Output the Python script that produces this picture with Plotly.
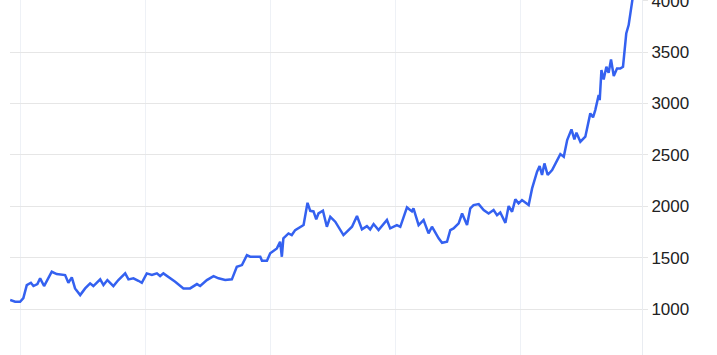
import plotly.graph_objects as go

dates = [
    "2015-11-04", "2015-12-03", "2016-01-01", "2016-01-20", "2016-02-09", "2016-03-04", "2016-03-19",
    "2016-04-11", "2016-04-27", "2016-05-20", "2016-07-04", "2016-08-02", "2016-09-20", "2016-10-09",
    "2016-10-29", "2016-11-17", "2016-12-17", "2017-01-15", "2017-02-13", "2017-03-04", "2017-04-13",
    "2017-05-02", "2017-05-25", "2017-06-29", "2017-07-28", "2017-09-06", "2017-09-25", "2017-10-24",
    "2017-11-22", "2017-12-12", "2018-01-10", "2018-02-09", "2018-03-10", "2018-03-29", "2018-04-17",
    "2018-05-17", "2018-06-25", "2018-08-12", "2018-09-20", "2018-10-30", "2018-11-18", "2018-12-27",
    "2019-02-04", "2019-03-05", "2019-04-13", "2019-05-22", "2019-06-20", "2019-07-20", "2019-08-18",
    "2019-09-06", "2019-10-05", "2019-11-04", "2019-11-14", "2019-12-13", "2020-01-01", "2020-02-09",
    "2020-02-28", "2020-03-09", "2020-03-18", "2020-04-17", "2020-05-06", "2020-05-26", "2020-07-14",
    "2020-08-06", "2020-08-22", "2020-09-10", "2020-09-26", "2020-10-09", "2020-11-04", "2020-11-27",
    "2020-12-17", "2021-01-15", "2021-03-04", "2021-04-03", "2021-04-23", "2021-05-22", "2021-06-20",
    "2021-07-19", "2021-08-07", "2021-08-27", "2021-09-25", "2021-11-13", "2021-12-02", "2022-01-10",
    "2022-01-30", "2022-03-10", "2022-04-08", "2022-04-17", "2022-05-17", "2022-06-15", "2022-07-14",
    "2022-08-03", "2022-09-11", "2022-10-01", "2022-10-30", "2022-11-18", "2022-12-07", "2023-01-06",
    "2023-01-26", "2023-02-24", "2023-03-15", "2023-04-03", "2023-05-03", "2023-06-01", "2023-06-30",
    "2023-07-29", "2023-08-18", "2023-09-06", "2023-09-26", "2023-10-06", "2023-10-25", "2023-11-14",
    "2023-12-03", "2023-12-22", "2024-01-11", "2024-02-19", "2024-03-10", "2024-04-08", "2024-04-23",
    "2024-05-07", "2024-05-21", "2024-06-09", "2024-07-05", "2024-07-24", "2024-08-22", "2024-09-11",
    "2024-10-01", "2024-10-26", "2024-11-12", "2024-11-24", "2024-12-17", "2025-01-15", "2025-02-13",
    "2025-03-01", "2025-03-14", "2025-04-03", "2025-04-09", "2025-04-19", "2025-05-02", "2025-05-18",
    "2025-05-31", "2025-06-14", "2025-06-30", "2025-07-19", "2025-08-07", "2025-08-23", "2025-08-31",
    "2025-09-11", "2025-09-25", "2025-10-18", "2025-11-03",
]

prices = [
    1088, 1071, 1071, 1107, 1233, 1256, 1224,
    1243, 1299, 1224, 1363, 1340, 1331, 1256,
    1308, 1201, 1136, 1201, 1250, 1224, 1289,
    1233, 1282, 1224, 1282, 1347, 1289, 1299,
    1275, 1256, 1347, 1331, 1347, 1321, 1347,
    1314, 1266, 1201, 1201, 1243, 1224, 1282,
    1321, 1299, 1282, 1289, 1411, 1428, 1525,
    1509, 1509, 1509, 1470, 1470, 1542, 1590,
    1655, 1509, 1688, 1736, 1720, 1768, 1817,
    2034, 1956, 1950, 1873, 1930, 1956, 1801,
    1898, 1850, 1720, 1768, 1801, 1905, 1775,
    1807, 1775, 1827, 1768, 1866, 1785, 1817,
    1800, 1989, 1950, 1980, 1817, 1866, 1736,
    1801, 1688, 1645, 1655, 1768, 1785, 1834,
    1930, 1817, 1980, 2012, 2021, 1963, 1930,
    1963, 1914, 1940, 1882, 1839, 2002, 1947,
    2067, 2028, 2060, 2012, 2174, 2336, 2391,
    2304, 2417, 2304, 2352, 2417, 2508, 2482,
    2644, 2748, 2651, 2716, 2628, 2677, 2904,
    2865, 2936, 3082, 3033, 3325, 3234, 3358,
    3298, 3428, 3267, 3341, 3340, 3358, 3487,
    3681, 3763, 4007, 4200,
]

y_ticks = [1000, 1500, 2000, 2500, 3000, 3500, 4000]
x_ticks = ["2016-01-01", "2018-01-01", "2020-01-01", "2022-01-01", "2024-01-01"]

fig = go.Figure()
fig.add_trace(go.Scatter(
    x=dates, y=prices, mode="lines",
    line=dict(color="#3461f0", width=2.5),
    hoverinfo="skip", showlegend=False,
))

fig.update_layout(
    width=717, height=355,
    margin=dict(l=10, r=75, t=0, b=0, autoexpand=False),
    paper_bgcolor="white", plot_bgcolor="white",
    font=dict(family="Liberation Sans, Arial, sans-serif", size=17, color="#222222"),
    xaxis=dict(
        range=["2015-11-03", "2025-12-12"],
        tickvals=x_ticks, showticklabels=False,
        showgrid=True, gridcolor="#eef1f6", gridwidth=1,
        zeroline=False, showline=False, ticks="", automargin=False,
    ),
    yaxis=dict(
        range=[553, 4007], side="right",
        tickvals=y_ticks, ticktext=[str(v) for v in y_ticks],
        showgrid=True, gridcolor="#e6e6e6", gridwidth=1,
        zeroline=False, showline=True, linecolor="#e9ecf1", linewidth=1,
        ticks="outside", ticklen=5, tickcolor="#e6e6e6",
        tickfont=dict(size=17, color="#222222"),
        ticklabeloverflow="allow", automargin=False,
    ),
)

fig.write_html("out.html")
